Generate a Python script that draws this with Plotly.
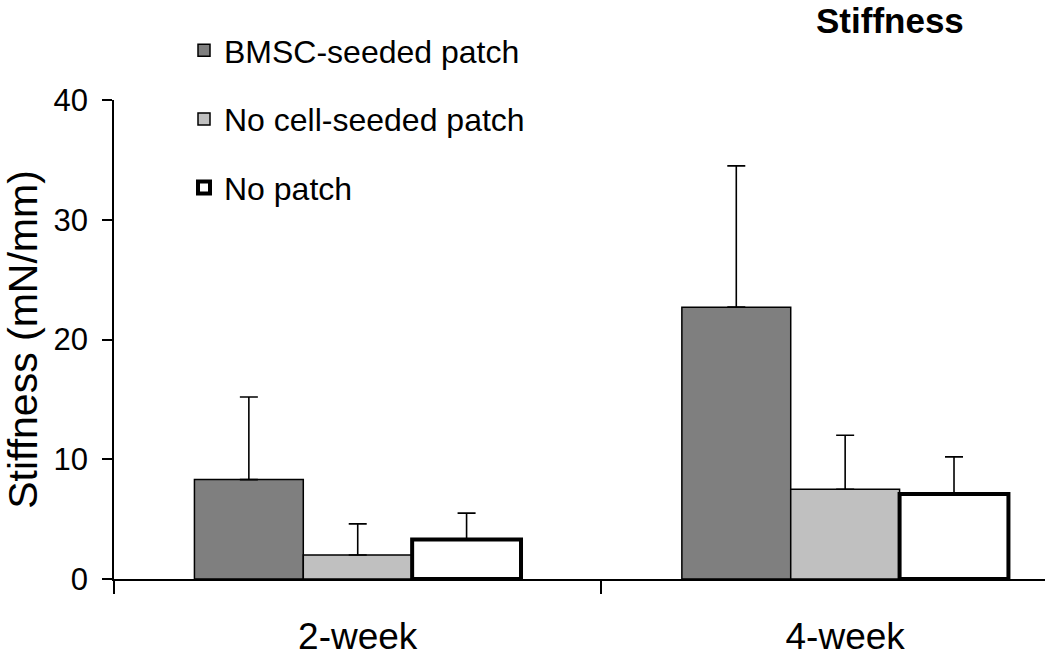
import plotly.graph_objects as go

categories = ["2-week", "4-week"]
series_names = ["BMSC-seeded patch", "No cell-seeded patch", "No patch"]
bmsc = [8.3, 22.7]
bmsc_err = [6.9, 11.8]
nocell = [2.0, 7.5]
nocell_err = [2.6, 4.5]
nopatch = [3.3, 7.1]
nopatch_err = [2.2, 3.1]

values = [bmsc, nocell, nopatch]
errors = [bmsc_err, nocell_err, nopatch_err]
fills = ["#7f7f7f", "#c0c0c0", "#ffffff"]
line_w = [1.5, 1.5, 4]

# plot-area geometry in pixels (for positioning overlays)
L, R, T, B = 114, 1045, 100, 579

fig = go.Figure()
for i, name in enumerate(series_names):
    fig.add_trace(go.Bar(
        name=name, x=categories, y=values[i],
        legendgroup=name,
        marker=dict(color=fills[i], line=dict(color="#000000", width=line_w[i])),
        error_y=dict(type="data", array=errors[i], arrayminus=[0, 0], symmetric=False,
                     color="#000000", thickness=1.6, width=9),
    ))

fig.update_layout(
    width=1050, height=656,
    paper_bgcolor="white", plot_bgcolor="white",
    margin=dict(l=L, r=1050 - R, t=T, b=656 - B),
    barmode="group", bargap=0.33, bargroupgap=0,
    font=dict(family="Arial, Liberation Sans, sans-serif", color="#000000"),
    showlegend=True,
    legend=dict(x=(184 - L) / (R - L), y=(B - 23) / (B - T), xanchor="left", yanchor="top",
                font=dict(size=32), tracegroupgap=24, bgcolor="rgba(0,0,0,0)"),
    xaxis=dict(type="category", range=[-0.5, 1.41], showline=True, linecolor="#000000",
               linewidth=1.5, ticks="outside", tickson="boundaries", ticklen=13,
               tickwidth=1.5, tickcolor="#000000", tickfont=dict(size=37),
               ticklabelstandoff=24, showgrid=False, zeroline=False, automargin=False),
    yaxis=dict(range=[0, 40], tickvals=[0, 10, 20, 30, 40], showline=True,
               linecolor="#000000", linewidth=1.5, ticks="outside", ticklen=10,
               tickwidth=1.5, tickcolor="#000000", tickfont=dict(size=31),
               ticklabelstandoff=8,
               showgrid=False, zeroline=False, automargin=False,
               title=dict(text="Stiffness (mN/mm)", font=dict(size=41), standoff=4)),
    annotations=[dict(text="<b>Stiffness</b>", x=(890 - L) / (R - L), y=(B - 20) / (B - T),
                      xref="paper", yref="paper", xanchor="center", yanchor="middle",
                      showarrow=False, font=dict(size=35))],
)

fig.write_html("out.html", config={"displayModeBar": False},
               post_script="document.body.style.margin='0px';")
